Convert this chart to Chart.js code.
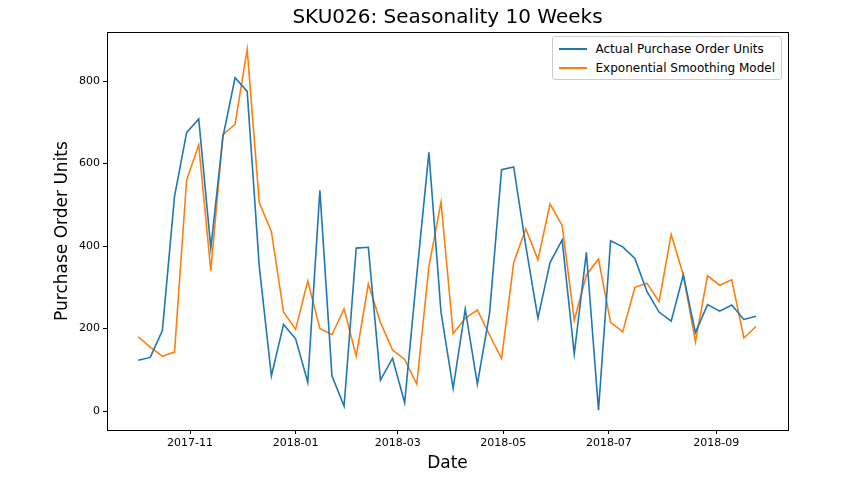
<!DOCTYPE html>
<html>
<head>
<meta charset="utf-8">
<script src="https://cdn.jsdelivr.net/npm/chart.js@4"></script>
<style>
  body { margin: 0; background: #fff; font-family: "DejaVu Sans", sans-serif; }
  #wrap { position: relative; width: 843px; height: 486px; }
  #title { position: absolute; top: 4px; left: 107px; width: 681px; text-align: center; font-size: 20px; color: #000; }
  #legend { position: absolute; top: 36px; right: 61px; border: 1px solid #ccc; border-radius: 3px; padding: 2px 6px; font-size: 12px; background: #fff; }
  #legend div { display: flex; align-items: center; height: 19px; }
  #legend span.sw { display: inline-block; width: 28px; height: 2px; margin-right: 9px; }
</style>
</head>
<body>
<div id="wrap">
  <canvas id="chart"></canvas>
  <div id="title">SKU026: Seasonality 10 Weeks</div>
  <div id="legend">
    <div><span class="sw" style="background:#1f77b4"></span>Actual Purchase Order Units</div>
    <div><span class="sw" style="background:#ff7f0e"></span>Exponential Smoothing Model</div>
  </div>
</div>
<script>
// weekly data starting 2017-10-02, x = days from that date
const startDate = "2017-10-02";
const actual = [123, 130, 195, 520, 675, 708, 395, 665, 808, 775, 350, 85, 210, 175, 70, 535, 85, 12,
  395, 397, 75, 128, 20, 330, 627, 240, 55, 247, 65, 235, 585, 592, 400, 225, 360, 415, 138, 385, 2,
  413, 398, 370, 290, 240, 218, 330, 190, 258, 242, 257, 222, 230];
const smoothed = [180, 155, 133, 143, 560, 645, 340, 670, 695, 877, 505, 435, 240, 198, 315, 200, 185, 248,
  133, 308, 215, 148, 125, 65, 350, 507, 188, 225, 245, 185, 127, 360, 442, 367, 502, 450, 220, 330, 368,
  215, 192, 300, 310, 265, 428, 330, 168, 328, 305, 318, 177, 205];
const tickDays = [30, 91, 150, 211, 272, 334];
const tickLabels = ["2017-11", "2018-01", "2018-03", "2018-05", "2018-07", "2018-09"];

const toPoints = arr => arr.map((v, i) => ({ x: i * 7, y: v }));

const canvas = document.querySelector("#chart");
canvas.width = 843;
canvas.height = 486;
const ctx = canvas.getContext("2d");

const tickFont = { family: "DejaVu Sans", size: 11 };

// ram runt hela plotytan
const frame = {
  id: "frame",
  afterDraw(chart) {
    const a = chart.chartArea;
    const c = chart.ctx;
    c.save();
    c.strokeStyle = "#000";
    c.lineWidth = 1;
    c.strokeRect(a.left + 0.5, a.top + 0.5, a.right - a.left, a.bottom - a.top);
    c.restore();
  },
};

new Chart(ctx, {
  type: "line",
  data: {
    datasets: [
      { label: "Actual Purchase Order Units", data: toPoints(actual), borderColor: "#1f77b4", borderWidth: 1.6, pointRadius: 0, tension: 0 },
      { label: "Exponential Smoothing Model", data: toPoints(smoothed), borderColor: "#ff7f0e", borderWidth: 1.6, pointRadius: 0, tension: 0 },
    ],
  },
  plugins: [frame],
  options: {
    responsive: false,
    animation: false,
    layout: { padding: { top: 32, right: 55, left: 48, bottom: 8 } },
    plugins: { legend: { display: false }, tooltip: { enabled: false } },
    scales: {
      x: {
        type: "linear",
        min: -18,
        max: 375.5,
        afterBuildTicks: s => { s.ticks = tickDays.map(v => ({ value: v })); },
        afterFit: s => { s.height = 48; },
        ticks: {
          color: "#000", font: tickFont, maxRotation: 0, autoSkip: false,
          callback: v => tickLabels[tickDays.indexOf(v)],
        },
        grid: { drawOnChartArea: false, tickLength: 4, color: "#000" },
        border: { color: "#000" },
        title: { display: true, text: "Date", color: "#000", font: { family: "DejaVu Sans", size: 17 }, padding: { top: 2 } },
      },
      y: {
        min: -46,
        max: 919,
        afterBuildTicks: s => { s.ticks = [0, 200, 400, 600, 800].map(v => ({ value: v })); },
        afterFit: s => { s.width = 59; },
        ticks: { color: "#000", font: tickFont },
        grid: { drawOnChartArea: false, tickLength: 4, color: "#000" },
        border: { color: "#000" },
        title: { display: true, text: "Purchase Order Units", color: "#000", font: { family: "DejaVu Sans", size: 17 }, padding: { bottom: 0 } },
      },
    },
  },
});
</script>
</body>
</html>
